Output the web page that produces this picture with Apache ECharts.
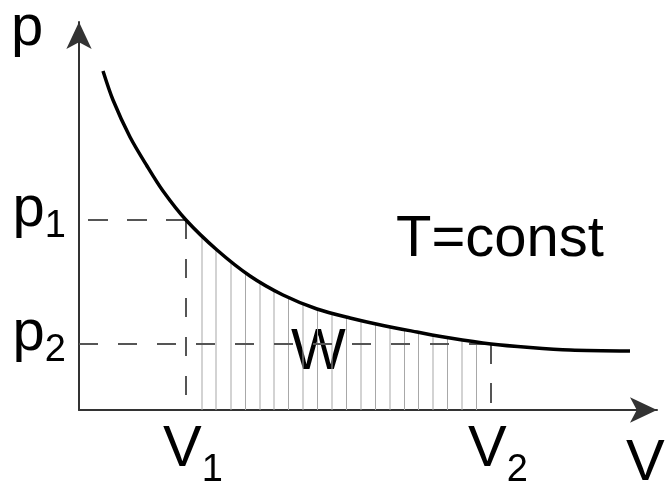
<!DOCTYPE html>
<html>
<head>
<meta charset="utf-8">
<script src="https://cdn.jsdelivr.net/npm/echarts@6/dist/echarts.min.js"></script>
<style>
  html, body { margin: 0; padding: 0; background: #fff; }
  #chart { width: 666px; height: 487px; }
</style>
</head>
<body>
<div id="chart"></div>
<script>
// isotherm p(V)
const curveV = [24, 34, 51, 68, 84, 107, 138, 171, 204, 238, 271, 304, 338, 371, 412, 451, 491, 551];
const curveP = [339, 310, 273, 244, 219, 190, 160, 134, 115, 101, 92, 84.5, 78, 72, 66, 62.5, 60, 59];

// hatching under the curve between V1 and V2 (work W)
const hatchV = [123, 137, 152, 166.5, 181, 195, 209.5, 224, 238.5, 253, 267.5, 282, 296.5, 311, 325.5, 339.5, 354, 368.5, 383, 397.5];
const hatchP = [174, 161, 149, 137, 127, 119, 113, 107, 101, 97, 93, 89.5, 86, 83, 80.5, 78, 75, 73, 70.5, 68];

// marked states
const V1 = 107, V2 = 412;
const p1 = 190, p2 = 66;
const xTicks = [V1, V2];
const xTickLabels = ['1', '2'];
const yTicks = [p2, p1];
const yTickLabels = ['2', '1'];

const FONT = '"Liberation Sans", Arial, Helvetica, sans-serif';
const chart = echarts.init(document.getElementById('chart'));

const guide = (pts, dash) => ({
  type: 'line', data: pts, symbol: 'none', silent: true, z: 3,
  lineStyle: { color: '#555', width: 2, type: dash }
});

// main letter + lowered subscript
const makeRich = (subTop, subLine) => ({
  m: { fontSize: 58, lineHeight: 58, fontFamily: FONT, color: '#000' },
  s: { fontSize: 38, lineHeight: subLine, padding: [subTop, 0, 0, 0], fontFamily: FONT, color: '#000' }
});

const option = {
  animation: false,
  grid: { left: 79, right: 9, top: 22, bottom: 77, outerBoundsMode: 'none' },
  xAxis: {
    type: 'value', min: 0, max: 578,
    splitLine: { show: false },
    axisTick: { show: false },
    axisLine: {
      onZero: false,
      symbol: ['none', 'arrow'], symbolSize: [19, 27],
      lineStyle: { color: '#333', width: 2 }
    },
    axisLabel: {
      customValues: xTicks,
      margin: 11,
      padding: [0, 0, 0, 14],
      formatter: (v) => '{m|V}{s|' + xTickLabels[xTicks.indexOf(v)] + '}',
      rich: makeRich(42, 12)
    }
  },
  yAxis: {
    type: 'value', min: 0, max: 388,
    splitLine: { show: false },
    axisTick: { show: false },
    axisLine: {
      show: true, onZero: false,
      symbol: ['none', 'arrow'], symbolSize: [19, 27],
      lineStyle: { color: '#333', width: 2 }
    },
    axisLabel: {
      customValues: yTicks,
      margin: 13,
      padding: [0, 0, 20, 0],
      formatter: (v) => '{m|p}{s|' + yTickLabels[yTicks.indexOf(v)] + '}',
      rich: makeRich(34, 20)
    }
  },
  series: [
    {
      type: 'bar',
      data: hatchV.map((v, i) => [v, hatchP[i]]),
      barWidth: 1,
      itemStyle: { color: '#a8a8a8' },
      silent: true, z: 1
    },
    guide([[V1, p1], [0, p1]], [20, 19]),
    guide([[V1, p1], [V1, 0]], [19, 20]),
    guide([[0, p2], [V2, p2]], [19, 20]),
    guide([[V2, p2], [V2, 0]], [20, 19]),
    {
      type: 'line',
      data: curveV.map((v, i) => [v, curveP[i]]),
      symbol: 'none', smooth: 0.3,
      lineStyle: { color: '#000', width: 3.5 },
      silent: true, z: 5
    }
  ],
  graphic: [
    { type: 'text', x: 11, y: 29, style: { text: 'p', font: '58px ' + FONT, fill: '#000', align: 'left', verticalAlign: 'middle' } },
    { type: 'text', x: 626, y: 464, style: { text: 'V', font: '58px ' + FONT, fill: '#000', align: 'left', verticalAlign: 'middle' } },
    { type: 'text', x: 396, y: 240, style: { text: 'T=const', font: '58px ' + FONT, fill: '#000', align: 'left', verticalAlign: 'middle' } },
    { type: 'text', x: 291, y: 353, style: { text: 'W', font: '58px ' + FONT, fill: '#000', align: 'left', verticalAlign: 'middle' } }
  ]
};

chart.setOption(option);
window.addEventListener('resize', () => chart.resize());
</script>
</body>
</html>
